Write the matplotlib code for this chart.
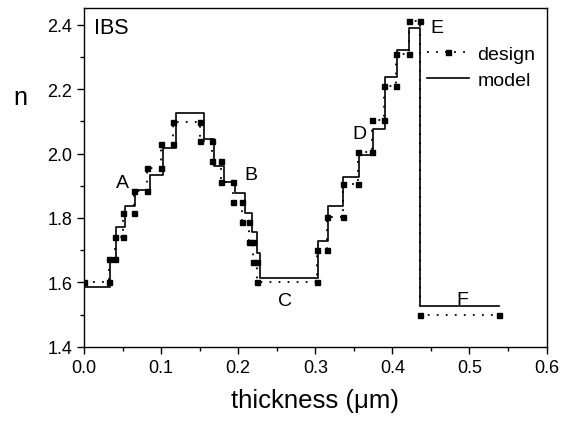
import numpy as np
import matplotlib
matplotlib.use("Agg")
import matplotlib.pyplot as plt
from matplotlib.ticker import MultipleLocator, FormatStrFormatter

plt.rcParams['font.family'] = ['Liberation Sans', 'DejaVu Sans']

# design profile: layer boundaries (um) and refractive index of each layer
design_x = [0.0, 0.032, 0.040, 0.050, 0.065, 0.082, 0.0995, 0.116, 0.151, 0.166,
            0.178, 0.193, 0.205, 0.2135, 0.219, 0.224, 0.3025, 0.3155, 0.336,
            0.356, 0.374, 0.389, 0.405, 0.422, 0.4365, 0.538]
design_n = [1.600, 1.672, 1.742, 1.815, 1.884, 1.955, 2.030, 2.099, 2.038, 1.977,
            1.912, 1.848, 1.786, 1.726, 1.662, 1.600, 1.701, 1.802, 1.905, 2.006,
            2.104, 2.210, 2.309, 2.412, 1.500]

# model profile
model_x = [0.0, 0.0337, 0.0415, 0.053, 0.066, 0.0856, 0.1028, 0.1193, 0.1550, 0.1690,
           0.1815, 0.196, 0.209, 0.2174, 0.2248, 0.2282, 0.3038, 0.3168, 0.3363,
           0.357, 0.375, 0.390, 0.4055, 0.4218, 0.4357, 0.539]
model_n = [1.586, 1.662, 1.771, 1.838, 1.888, 1.933, 2.017, 2.126, 2.045, 1.962,
           1.912, 1.877, 1.815, 1.755, 1.691, 1.612, 1.729, 1.836, 1.928, 1.995,
           2.076, 2.239, 2.322, 2.389, 1.525]

labels = ['A', 'B', 'C', 'D', 'E', 'F']
label_x = [0.0502, 0.2163, 0.2606, 0.3579, 0.458, 0.4914]
label_y = [1.909, 1.934, 1.545, 2.063, 2.392, 1.548]

fig = plt.figure(figsize=(5.64, 4.27), dpi=100)
ax = fig.add_axes([0.149, 0.1857, 0.820, 0.7925])

# design: step line through both ends of each layer
dx, dy = [], []
for i, n in enumerate(design_n):
    dx += [design_x[i], design_x[i + 1]]
    dy += [n, n]
ax.plot(dx, dy, color='black', linestyle=(0, (1, 4)), linewidth=1.3,
        marker='s', markersize=3.6, label='design')

# model: solid step line
mx, my = [], []
for i, n in enumerate(model_n):
    mx += [model_x[i], model_x[i + 1]]
    my += [n, n]
ax.plot(mx, my, color='black', linewidth=1.2, label='model')

for t, x, y in zip(labels, label_x, label_y):
    ax.text(x, y, t, fontsize=14, ha='center', va='center')

ax.text(0.013, 2.39, 'IBS', fontsize=15.5, ha='left', va='center')

ax.set_xlim(0, 0.6)
ax.set_ylim(1.4, 2.451)
ax.xaxis.set_major_locator(MultipleLocator(0.1))
ax.xaxis.set_minor_locator(MultipleLocator(0.05))
ax.yaxis.set_major_locator(MultipleLocator(0.2))
ax.yaxis.set_minor_locator(MultipleLocator(0.1))
ax.xaxis.set_major_formatter(FormatStrFormatter('%.1f'))
ax.yaxis.set_major_formatter(FormatStrFormatter('%.1f'))
ax.tick_params(which='both', direction='out', labelsize=13, width=1)
ax.tick_params(which='major', length=5)
ax.tick_params(which='minor', length=3)
for s in ax.spines.values():
    s.set_linewidth(1)

ax.set_xlabel('thickness (\u03bcm)', fontsize=18.5, labelpad=9)
fig.text(20 / 564, 1 - 98 / 427, 'n', fontsize=18, ha='center', va='center')

ax.legend(loc='upper left', bbox_to_anchor=(0.724, 0.914), frameon=False,
          fontsize=14, handlelength=2.2, handletextpad=0.4, labelspacing=0.44,
          numpoints=1, borderaxespad=0.0)

fig.savefig('out.png', dpi=100)
